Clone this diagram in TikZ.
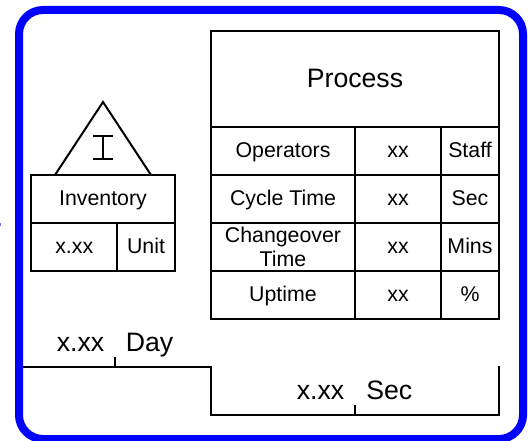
\documentclass[tikz,border=0pt]{standalone}
\usepackage{fontspec}
\setmainfont{Liberation Sans}
\definecolor{framecol}{RGB}{0,0,255}
\definecolor{speck}{RGB}{110,110,255}
\tikzset{
  x=0.75pt,y=-0.75pt,
  cell/.style={draw=black,line width=1.5pt,inner sep=0pt,outer sep=0pt,align=center,font=\fontsize{16}{18}\selectfont},
  one/.style={text height=12pt,text depth=1.5pt},
  c144/.style={cell,minimum width=108pt,minimum height=36pt},
  c86/.style={cell,minimum width=64.5pt,minimum height=36pt},
  c58/.style={cell,minimum width=43.5pt,minimum height=36pt},
  big/.style={inner sep=0pt,font=\fontsize{20}{22}\selectfont},
  ink/.style={draw=black,line width=1.5pt,line cap=butt},
  frame/.style={draw=framecol,line width=6pt}
}
\begin{document}
\begin{tikzpicture}
\useasboundingbox (0,0) rectangle (528,441);
\fill[white] (0,0) rectangle (528,441);
\draw[frame,rounded corners=18pt] (19,10) rectangle (523,439);
\fill[speck] (0,223) rectangle (1,226);
% Process table
\node[cell,minimum width=216pt,minimum height=72pt,font=\fontsize{20}{22}\selectfont,text height=15.5pt,text depth=2pt] (process) at (355,79) {Process};
\node[c144,one] (op) at (283,151) {Operators};
\node[c86,one] (opv) at (398,151) {xx};
\node[c58,one] (opu) at (470,151) {Staff};
\node[c144,one] (ct) at (283,199) {Cycle Time};
\node[c86,one] (ctv) at (398,199) {xx};
\node[c58,one] (ctu) at (470,199) {Sec};
\node[c144] (co) at (283,247) {\raisebox{0.75pt}{Changeover}\\\raisebox{0.75pt}{Time}};
\node[c86,one] (cov) at (398,247) {xx};
\node[c58,one] (cou) at (470,247) {Mins};
\node[c144,one] (up) at (283,295) {Uptime};
\node[c86,one] (upv) at (398,295) {xx};
\node[c58,one] (upu) at (470,295) {\%};
% Inventory
\node[c144,one] (inv) at (103,199) {Inventory};
\node[c86,one] (invv) at (74.25,247) {x.xx};
\node[c58,one] (invu) at (146,247) {Unit};
\coordinate (apex) at (103,102);
\coordinate (tl) at (55,175);
\coordinate (tr) at (151,175);
\draw[ink,line join=miter] (tl) -- (apex) -- (tr);
\coordinate (itop) at (103,136);
\coordinate (ibot) at (103,159);
\draw[ink] (93,136) -- (113,136);
\draw[ink] (93,159) -- (113,159);
\draw[ink] (itop) -- (ibot);
% Timeline
\coordinate (t0) at (23,367);
\coordinate (t1) at (211,367);
\coordinate (t2) at (211,415);
\coordinate (t3) at (499,415);
\coordinate (t4) at (499,366);
\draw[ink,line join=miter] (t0) -- (t1) -- (t2) -- (t3) -- (t4);
\coordinate (d1) at (115,367);
\coordinate (d2) at (115,357);
\draw[ink] (d1) -- (d2);
\coordinate (s1) at (355,415);
\coordinate (s2) at (355,405);
\draw[ink] (s1) -- (s2);
\node[big,anchor=base east] (dv) at (104.5,351.5) {x.xx};
\node[big,anchor=base west] (du) at (125.5,351.5) {Day};
\node[big,anchor=base east] (sv) at (344.5,399.5) {x.xx};
\node[big,anchor=base west] (su) at (366,399.5) {Sec};
\end{tikzpicture}
\end{document}
